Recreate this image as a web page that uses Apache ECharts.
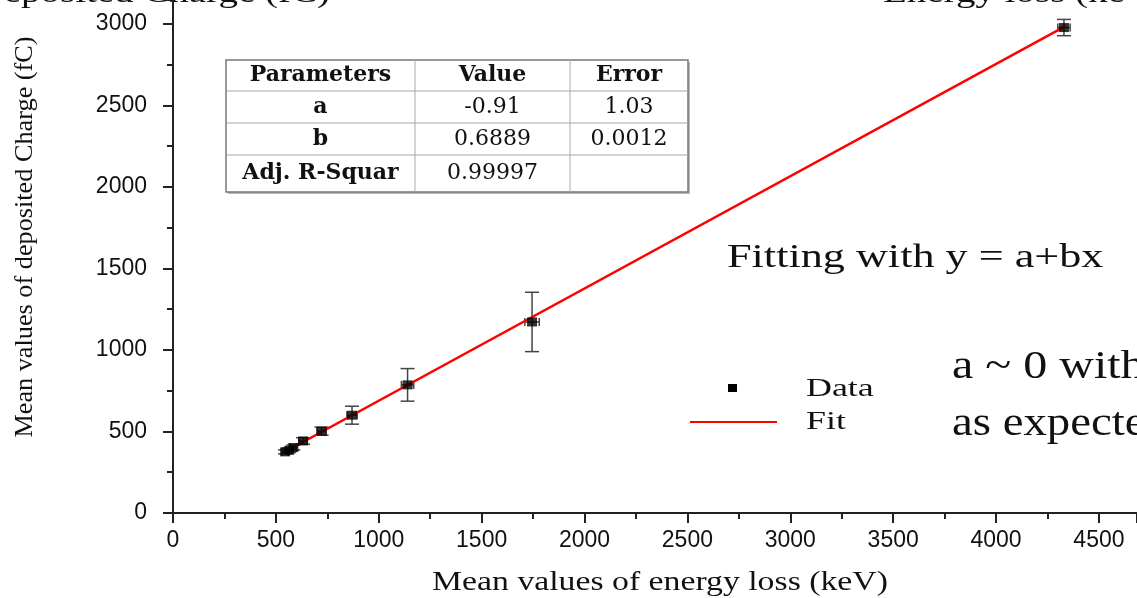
<!DOCTYPE html>
<html>
<head>
<meta charset="utf-8">
<script src="https://cdn.jsdelivr.net/npm/echarts@6/dist/echarts.min.js"></script>
<style>
  html, body { margin: 0; padding: 0; background: #fff; }
  #main { width: 1137px; height: 598px; }
</style>
</head>
<body>
<div id="main"></div>
<script>
// measured points (energy loss in keV, deposited charge in fC)
var energy    = [545, 565, 585, 632, 722, 870, 1140, 1745, 4330];
var charge    = [375, 385, 402, 442, 502, 600, 786, 1172, 2978];
var chargeErr = [12, 14, 15, 20, 25, 55, 100, 182, 50];
var energyErr = [15, 15, 15, 20, 22, 25, 30, 35, 30];

// fit line ends
var fitX = [530, 4335];
var fitY = [365, 2985];

// fit results table
var tableHead = ['Parameters', 'Value', 'Error'];
var tableName = ['a', 'b', 'Adj. R-Squar'];
var tableVal  = ['-0.91', '0.6889', '0.99997'];
var tableErr  = ['1.03', '0.0012', ''];

var serif = '"Liberation Serif", "DejaVu Serif", serif';
var wideSerif = '"DejaVu Serif", serif';
var sans = '"Liberation Sans", Arial, sans-serif';

var myChart = echarts.init(document.getElementById('main'));

var points = energy.map(function (x, i) { return [x, charge[i]]; });
var errData = energy.map(function (x, i) { return [x, charge[i], chargeErr[i], energyErr[i]]; });
var fitData = fitX.map(function (x, i) { return [x, fitY[i]]; });

// table built as graphic elements
var colX = [226, 415, 570, 688];
var rowY = [60, 91, 123, 155, 192];
var tbl = [];
tbl.push({ type: 'rect', shape: { x: 228, y: 62, width: 462, height: 132 }, style: { fill: '#bbb' }, z: 10 });
tbl.push({ type: 'rect', shape: { x: colX[0], y: rowY[0], width: colX[3] - colX[0], height: rowY[4] - rowY[0] },
  style: { fill: '#fff', stroke: '#777', lineWidth: 1.5 }, z: 11 });
for (var r = 1; r < 4; r++) {
  tbl.push({ type: 'line', shape: { x1: colX[0], y1: rowY[r], x2: colX[3], y2: rowY[r] }, style: { stroke: '#aaa', lineWidth: 1 }, z: 12 });
}
for (var c = 1; c < 3; c++) {
  tbl.push({ type: 'line', shape: { x1: colX[c], y1: rowY[0], x2: colX[c], y2: rowY[4] }, style: { stroke: '#aaa', lineWidth: 1 }, z: 12 });
}
function cell(txt, col, row, bold) {
  return { type: 'text', z: 13,
    x: (colX[col] + colX[col + 1]) / 2, y: (rowY[row] + rowY[row + 1]) / 2,
    style: { text: txt, fill: '#111', font: (bold ? 'bold ' : '') + '22px ' + wideSerif, align: 'center', verticalAlign: 'middle' } };
}
tableHead.forEach(function (t, i) { tbl.push(cell(t, i, 0, true)); });
tableName.forEach(function (t, i) { tbl.push(cell(t, 0, i + 1, true)); });
tableVal.forEach(function (t, i) { tbl.push(cell(t, 1, i + 1, false)); });
tableErr.forEach(function (t, i) { tbl.push(cell(t, 2, i + 1, false)); });

function txt(s, x, y, size, sx, align, vAlign, extra) {
  var o = { type: 'text', x: x, y: y, scaleX: sx,
    style: { text: s, fill: '#111', font: size + 'px ' + serif, align: align, verticalAlign: vAlign } };
  if (extra) { for (var k in extra) o[k] = extra[k]; }
  return o;
}

var texts = [
  txt('Deposited Charge (fC)', 330, 9, 30, 1.3, 'right', 'bottom'),
  txt('Energy loss (keV)', 883, 9, 30, 1.3, 'left', 'bottom'),
  txt('Mean values of deposited Charge (fC)', 25, 237, 25, 1.05, 'center', 'middle', { rotation: Math.PI / 2 }),
  txt('Mean values of energy loss (keV)', 660, 583, 27, 1.25, 'center', 'middle'),
  txt('Fitting with y = a+bx', 727, 258, 34, 1.3, 'left', 'middle'),
  txt('a ~ 0 within error', 952, 367, 40, 1.2, 'left', 'middle'),
  txt('as expected', 952, 424, 40, 1.17, 'left', 'middle'),
  // legend
  { type: 'rect', shape: { x: 728, y: 384, width: 9, height: 8 }, style: { fill: '#000' } },
  txt('Data', 806, 389, 26, 1.38, 'left', 'middle'),
  { type: 'line', shape: { x1: 690, y1: 422, x2: 777, y2: 422 }, style: { stroke: '#ff0000', lineWidth: 2 } },
  txt('Fit', 806, 422, 26, 1.38, 'left', 'middle')
];

option = {
  animation: false,
  backgroundColor: '#fff',
  grid: { left: 173, right: 0, top: 0, bottom: 85 },
  xAxis: {
    type: 'value', min: 0, max: 4685, interval: 500,
    axisLine: { onZero: false, lineStyle: { color: '#222', width: 2 } },
    axisTick: { inside: false, length: 10, lineStyle: { color: '#222', width: 2 } },
    minorTick: { show: true, splitNumber: 2, length: 6, lineStyle: { color: '#222', width: 2 } },
    axisLabel: { color: '#111', fontSize: 23, fontFamily: sans, margin: 16, showMaxLabel: false,
      formatter: function (v) { return String(v); } },
    splitLine: { show: false }
  },
  yAxis: {
    type: 'value', min: 0, max: 3147, interval: 500,
    axisLine: { show: true, onZero: false, lineStyle: { color: '#222', width: 2 } },
    axisTick: { show: true, inside: false, length: 10, lineStyle: { color: '#222', width: 2 } },
    minorTick: { show: true, splitNumber: 2, length: 6, lineStyle: { color: '#222', width: 2 } },
    axisLabel: { color: '#111', fontSize: 23, fontFamily: sans, margin: 26, showMaxLabel: false,
      formatter: function (v) { return String(v); } },
    splitLine: { show: false }
  },
  series: [
    {
      name: 'Fit', type: 'line', data: fitData, showSymbol: false,
      lineStyle: { color: '#ff0000', width: 2.5 }, z: 3
    },
    {
      name: 'Error', type: 'custom', data: errData, z: 2,
      renderItem: function (params, api) {
        var x = api.value(0), y = api.value(1), ey = api.value(2), ex = api.value(3);
        var top = api.coord([x, y + ey]);
        var bot = api.coord([x, y - ey]);
        var lft = api.coord([x - ex, y]);
        var rgt = api.coord([x + ex, y]);
        var cw = 7;
        var st = { stroke: '#444', lineWidth: 1.5 };
        return { type: 'group', children: [
          { type: 'line', shape: { x1: top[0], y1: top[1], x2: bot[0], y2: bot[1] }, style: st },
          { type: 'line', shape: { x1: top[0] - cw, y1: top[1], x2: top[0] + cw, y2: top[1] }, style: st },
          { type: 'line', shape: { x1: bot[0] - cw, y1: bot[1], x2: bot[0] + cw, y2: bot[1] }, style: st },
          { type: 'line', shape: { x1: lft[0], y1: lft[1], x2: rgt[0], y2: rgt[1] }, style: st },
          { type: 'line', shape: { x1: lft[0], y1: lft[1] - 4, x2: lft[0], y2: lft[1] + 4 }, style: st },
          { type: 'line', shape: { x1: rgt[0], y1: rgt[1] - 4, x2: rgt[0], y2: rgt[1] + 4 }, style: st }
        ] };
      }
    },
    {
      name: 'Data', type: 'scatter', data: points, symbol: 'rect', symbolSize: [10, 9],
      itemStyle: { color: '#000' }, z: 4
    }
  ],
  graphic: texts.concat(tbl)
};

myChart.setOption(option);
</script>
</body>
</html>
